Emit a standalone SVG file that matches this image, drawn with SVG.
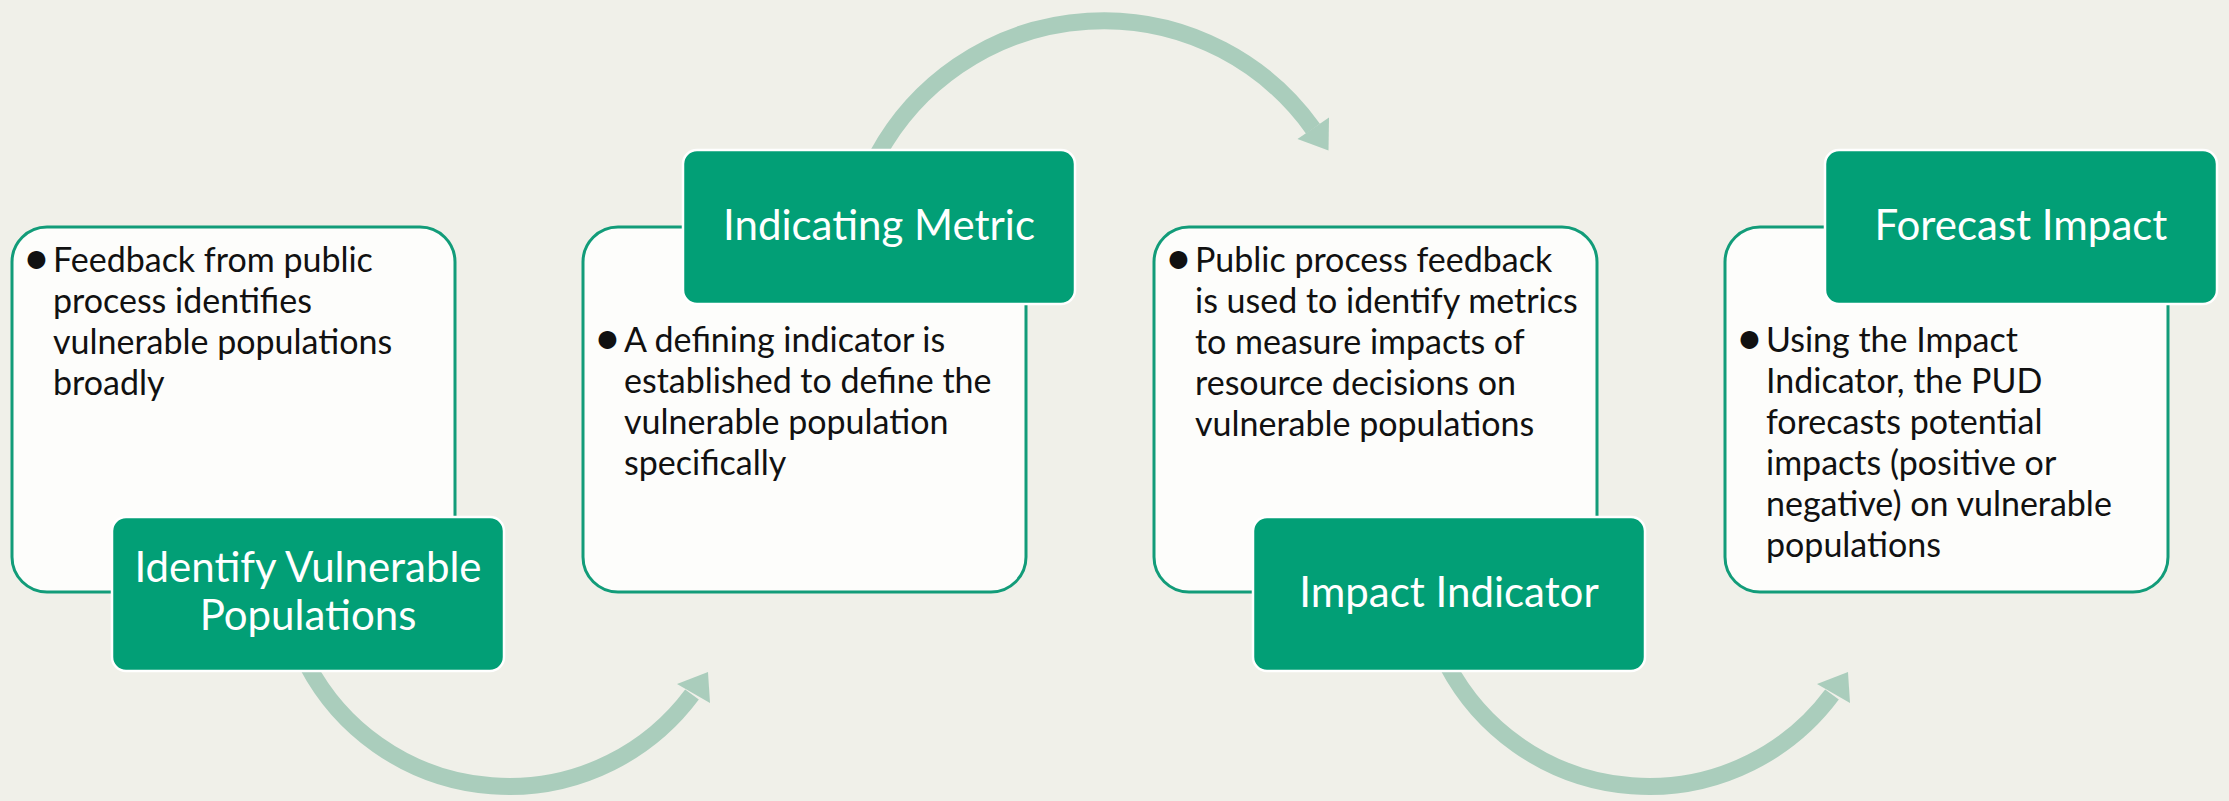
<svg xmlns="http://www.w3.org/2000/svg" width="2229" height="801" viewBox="0 0 2229 801">
<style>
.bg{fill:#f0f0e9}
.card{fill:#fdfdfb;stroke:#129c79;stroke-width:3}
.head{fill:#029f76;stroke:#ffffff;stroke-width:2.5}
.arc{fill:none;stroke:#aacdbc;stroke-width:17}
.tip{fill:#aacdbc}
.body{font-family:Lato,"Liberation Sans",sans-serif;font-size:34px;fill:#111111}
.dot{font-family:Lato,"Liberation Sans",sans-serif;font-size:48px;fill:#111111;text-anchor:middle}
.title{font-family:Lato,"Liberation Sans",sans-serif;font-size:42px;fill:#ffffff;text-anchor:middle}
</style>
<rect class="bg" x="0" y="0" width="2229" height="801"/>
<g id="connectors">
<path class="arc" d="M 307.4 665 A 228 228 0 0 0 692 694.5"/>
<polygon class="tip" points="708,672 677,684 710,703"/>
<path class="arc" d="M 877.5 155 A 257.3 257.3 0 0 1 1313 128.7"/>
<polygon class="tip" points="1328.5,150.5 1297.5,139 1329,117.5"/>
<path class="arc" d="M 1447.4 665 A 228 228 0 0 0 1832 694.5"/>
<polygon class="tip" points="1848,672 1817,684 1850,703"/>
</g>
<g id="node1">
<rect class="card" x="12" y="227" width="443" height="365" rx="35"/>
<text class="dot" x="36.5" y="274">•</text>
<text class="body" x="53" y="272">Feedback from public</text>
<text class="body" x="53" y="313">process identifies</text>
<text class="body" x="53" y="354">vulnerable populations</text>
<text class="body" x="53" y="395">broadly</text>
<rect class="head" x="112" y="517" width="392" height="154" rx="14"/>
<text class="title" x="308" y="582">Identify Vulnerable</text>
<text class="title" x="308" y="630">Populations</text>
</g>
<g id="node2">
<rect class="card" x="583" y="227" width="443" height="365" rx="35"/>
<rect class="head" x="683" y="150" width="392" height="154" rx="14"/>
<text class="title" x="879" y="240">Indicating Metric</text>
<text class="dot" x="607.5" y="354">•</text>
<text class="body" x="624" y="352">A defining indicator is</text>
<text class="body" x="624" y="393">established to define the</text>
<text class="body" x="624" y="434">vulnerable population</text>
<text class="body" x="624" y="475">specifically</text>
</g>
<g id="node3">
<rect class="card" x="1154" y="227" width="443" height="365" rx="35"/>
<text class="dot" x="1178.5" y="274">•</text>
<text class="body" x="1195" y="272">Public process feedback</text>
<text class="body" x="1195" y="313">is used to identify metrics</text>
<text class="body" x="1195" y="354">to measure impacts of</text>
<text class="body" x="1195" y="395">resource decisions on</text>
<text class="body" x="1195" y="436">vulnerable populations</text>
<rect class="head" x="1253" y="517" width="392" height="154" rx="14"/>
<text class="title" x="1449" y="607">Impact Indicator</text>
</g>
<g id="node4">
<rect class="card" x="1725" y="227" width="443" height="365" rx="35"/>
<rect class="head" x="1825" y="150" width="392" height="154" rx="14"/>
<text class="title" x="2021" y="240">Forecast Impact</text>
<text class="dot" x="1749.5" y="354">•</text>
<text class="body" x="1766" y="352">Using the Impact</text>
<text class="body" x="1766" y="393">Indicator, the PUD</text>
<text class="body" x="1766" y="434">forecasts potential</text>
<text class="body" x="1766" y="475">impacts (positive or</text>
<text class="body" x="1766" y="516">negative) on vulnerable</text>
<text class="body" x="1766" y="557">populations</text>
</g>
</svg>
